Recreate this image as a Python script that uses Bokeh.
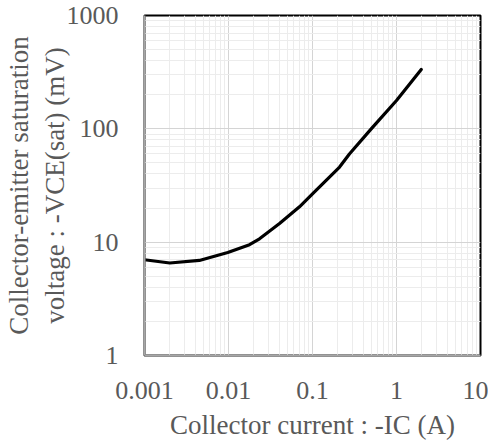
from bokeh.plotting import figure
from bokeh.models import FixedTicker, Range1d
from bokeh.embed import file_html
from bokeh.resources import INLINE

# Data
ic_amps = [0.001, 0.002, 0.0045, 0.0098, 0.0178, 0.0234, 0.0405, 0.07, 0.1, 0.21, 0.275, 0.5, 1.0, 1.97]
vce_mv = [7.0, 6.55, 6.9, 8.1, 9.5, 10.7, 14.6, 20.5, 26.7, 46.0, 60.0, 100.0, 178.0, 334.0]

x_major = [0.001, 0.01, 0.1, 1, 10]
x_labels = ["0.001", "0.01", "0.1", "1", "10"]
y_major = [1, 10, 100, 1000]
y_labels = ["1", "10", "100", "1000"]

def minors(lo_exp, hi_exp):
    out = []
    for e in range(lo_exp, hi_exp):
        for k in range(2, 10):
            out.append(k * 10.0 ** e)
    return out

FONT = "Liberation Serif"
TXT = "#595959"

p = figure(x_axis_type="log", y_axis_type="log",
           x_range=Range1d(0.001, 10), y_range=Range1d(1, 1000),
           frame_width=336, frame_height=340, title_location=None,
           min_border_left=137, min_border_top=15, min_border_right=8, min_border_bottom=77,
           output_backend="svg", toolbar_location=None)

p.line(ic_amps, vce_mv, line_color="black", line_width=3.2, line_join="round", line_cap="round")

p.xaxis.ticker = FixedTicker(ticks=x_major, minor_ticks=minors(-3, 1))
p.yaxis.ticker = FixedTicker(ticks=y_major, minor_ticks=minors(0, 3))
p.xaxis.major_label_overrides = {v: s for v, s in zip(x_major, x_labels)}
p.yaxis.major_label_overrides = {v: s for v, s in zip(y_major, y_labels)}

for ax in (p.xaxis, p.yaxis):
    ax.major_tick_line_color = None
    ax.minor_tick_line_color = None
    ax.major_tick_out = 0
    ax.major_tick_in = 0
    ax.axis_line_color = "#a6a6a6"
    ax.axis_line_width = 2
    ax.major_label_text_font = FONT
    ax.major_label_text_font_size = "26px"
    ax.major_label_text_color = TXT
    ax.axis_label_text_font = FONT
    ax.axis_label_text_font_size = "27px"
    ax.axis_label_text_color = TXT
    ax.axis_label_text_font_style = "normal"

p.xaxis.axis_label = "Collector current : -IC (A)"
p.yaxis.axis_label = "Collector-emitter saturation\nvoltage : -VCE(sat) (mV)"
p.xaxis.major_label_standoff = 22
p.yaxis.major_label_standoff = 22
p.xaxis.axis_label_standoff = 8
p.yaxis.axis_label_standoff = -6

p.grid.grid_line_color = "#d4d4d4"
p.grid.grid_line_width = 1
p.grid.minor_grid_line_color = "#ececec"
p.grid.minor_grid_line_width = 1

p.outline_line_color = "black"
p.outline_line_width = 2
p.outline_line_alpha = 1

open("out.html", "w").write(file_html(p, INLINE))
